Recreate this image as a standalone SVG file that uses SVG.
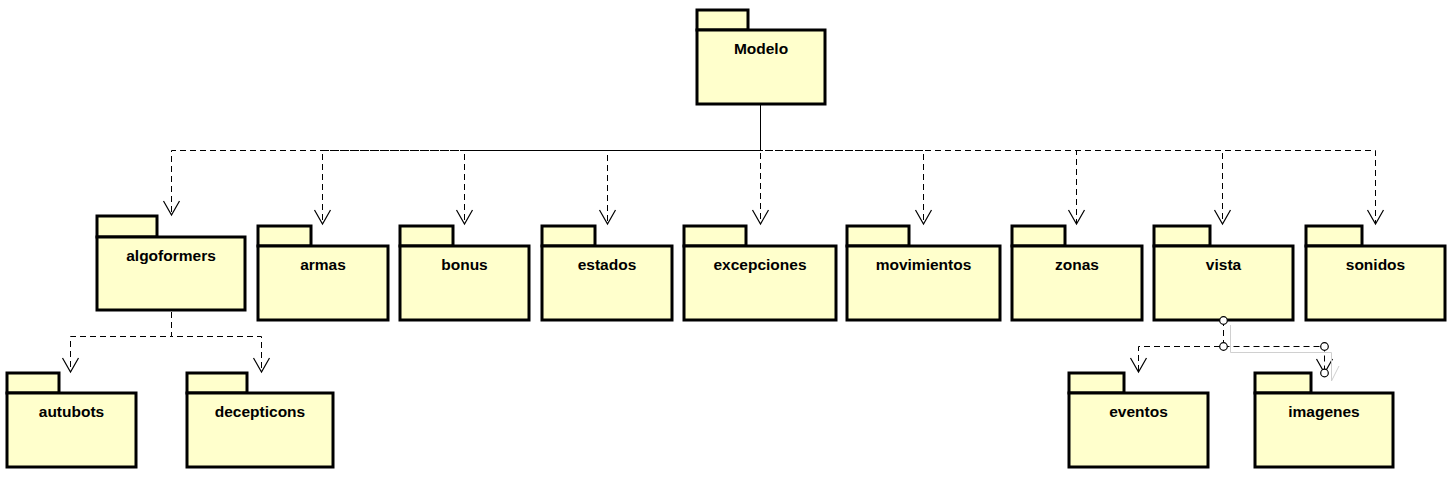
<svg xmlns="http://www.w3.org/2000/svg" width="1454" height="484" viewBox="0 0 1454 484">
<style>
.pk rect{fill:#ffffcc;stroke:#000;stroke-width:3}
.pk text{font-family:"Liberation Sans",Arial,sans-serif;font-weight:bold;font-size:15.5px;text-anchor:middle;fill:#000}
.dep{fill:none;stroke:#000;stroke-width:1;stroke-dasharray:6,4}
.ghost{fill:none;stroke:#d0d0d0;stroke-width:1}
.hdl{fill:#fff;stroke:#000;stroke-width:1.2}
</style>
<defs>
<marker id="open" markerUnits="userSpaceOnUse" markerWidth="20" markerHeight="20" viewBox="-16 -10 18 20" refX="0" refY="0" orient="auto" overflow="visible">
<path d="M-14,-8 L0,0 L-14,8" fill="none" stroke="#000" stroke-width="1.2" stroke-dasharray="none"/>
</marker>
</defs>
<rect width="1454" height="484" fill="#fff"/>
<g id="modelo" class="pk"><rect x="697" y="10" width="51" height="20"/><rect x="697" y="30" width="128" height="74"/><text x="761" y="54">Modelo</text></g>
<g id="algoformers" class="pk"><rect x="97" y="216" width="60" height="21"/><rect x="97" y="237" width="148" height="73"/><text x="171" y="261">algoformers</text></g>
<g id="armas" class="pk"><rect x="258" y="226" width="53" height="20"/><rect x="258" y="246" width="130" height="74"/><text x="323" y="270">armas</text></g>
<g id="bonus" class="pk"><rect x="400" y="226" width="53" height="20"/><rect x="400" y="246" width="129" height="74"/><text x="464.5" y="270">bonus</text></g>
<g id="estados" class="pk"><rect x="542" y="226" width="53" height="20"/><rect x="542" y="246" width="130" height="74"/><text x="607" y="270">estados</text></g>
<g id="excepciones" class="pk"><rect x="684" y="226" width="62" height="20"/><rect x="684" y="246" width="152" height="74"/><text x="760" y="270">excepciones</text></g>
<g id="movimientos" class="pk"><rect x="847" y="226" width="62" height="20"/><rect x="847" y="246" width="153" height="74"/><text x="923.5" y="270">movimientos</text></g>
<g id="zonas" class="pk"><rect x="1012" y="226" width="53" height="20"/><rect x="1012" y="246" width="130" height="74"/><text x="1077" y="270">zonas</text></g>
<g id="vista" class="pk"><rect x="1154" y="226" width="56" height="20"/><rect x="1154" y="246" width="139" height="74"/><text x="1223.5" y="270">vista</text></g>
<g id="sonidos" class="pk"><rect x="1306" y="226" width="56" height="20"/><rect x="1306" y="246" width="139" height="74"/><text x="1375.5" y="270">sonidos</text></g>
<g id="autubots" class="pk"><rect x="7" y="373" width="52" height="20"/><rect x="7" y="393" width="129" height="74"/><text x="71.5" y="417">autubots</text></g>
<g id="decepticons" class="pk"><rect x="187" y="373" width="60" height="20"/><rect x="187" y="393" width="146" height="74"/><text x="260" y="417">decepticons</text></g>
<g id="eventos" class="pk"><rect x="1069" y="373" width="55" height="20"/><rect x="1069" y="393" width="139" height="74"/><text x="1138.5" y="417">eventos</text></g>
<g id="imagenes" class="pk"><rect x="1255" y="373" width="56" height="20"/><rect x="1255" y="393" width="138" height="74"/><text x="1324" y="417">imagenes</text></g>
<g id="connectors">
<polyline class="dep" points="760.5,105 760.5,150.5 171.5,150.5 171.5,215" marker-end="url(#open)"/>
<polyline class="dep" style="stroke-dashoffset:3" points="760.5,105 760.5,150.5 322.5,150.5 322.5,224" marker-end="url(#open)"/>
<polyline class="dep" style="stroke-dashoffset:5" points="760.5,105 760.5,150.5 464.5,150.5 464.5,224" marker-end="url(#open)"/>
<polyline class="dep" style="stroke-dashoffset:7" points="760.5,105 760.5,150.5 607.5,150.5 607.5,224" marker-end="url(#open)"/>
<polyline class="dep" style="stroke-dashoffset:2" points="760.5,105 760.5,224" marker-end="url(#open)"/>
<polyline class="dep" style="stroke-dashoffset:8" points="760.5,105 760.5,150.5 923.5,150.5 923.5,224" marker-end="url(#open)"/>
<polyline class="dep" points="760.5,105 760.5,150.5 1076.5,150.5 1076.5,224" marker-end="url(#open)"/>
<polyline class="dep" points="760.5,105 760.5,150.5 1222.5,150.5 1222.5,224" marker-end="url(#open)"/>
<polyline class="dep" points="760.5,105 760.5,150.5 1375.5,150.5 1375.5,224" marker-end="url(#open)"/>
<polyline class="dep" points="171.5,312 171.5,336.5 70.5,336.5 70.5,372" marker-end="url(#open)"/>
<polyline class="dep" points="171.5,312 171.5,336.5 261.5,336.5 261.5,372" marker-end="url(#open)"/>
<polyline class="dep" points="1223.5,320 1223.5,346.5 1138.5,346.5 1138.5,372" marker-end="url(#open)"/>
<polyline class="dep" points="1223.5,346.5 1324.5,346.5 1324.5,373" marker-end="url(#open)"/>
<polyline class="ghost" points="1230.5,325 1230.5,352.5 1331.5,352.5 1331.5,381 1339,366"/>
<circle class="hdl" cx="1223.5" cy="320.5" r="3.8"/>
<circle class="hdl" cx="1223.5" cy="346.5" r="3.8"/>
<circle class="hdl" cx="1324.5" cy="346.5" r="3.8"/>
<circle class="hdl" cx="1324.5" cy="373" r="3.8"/>
</g>
</svg>
